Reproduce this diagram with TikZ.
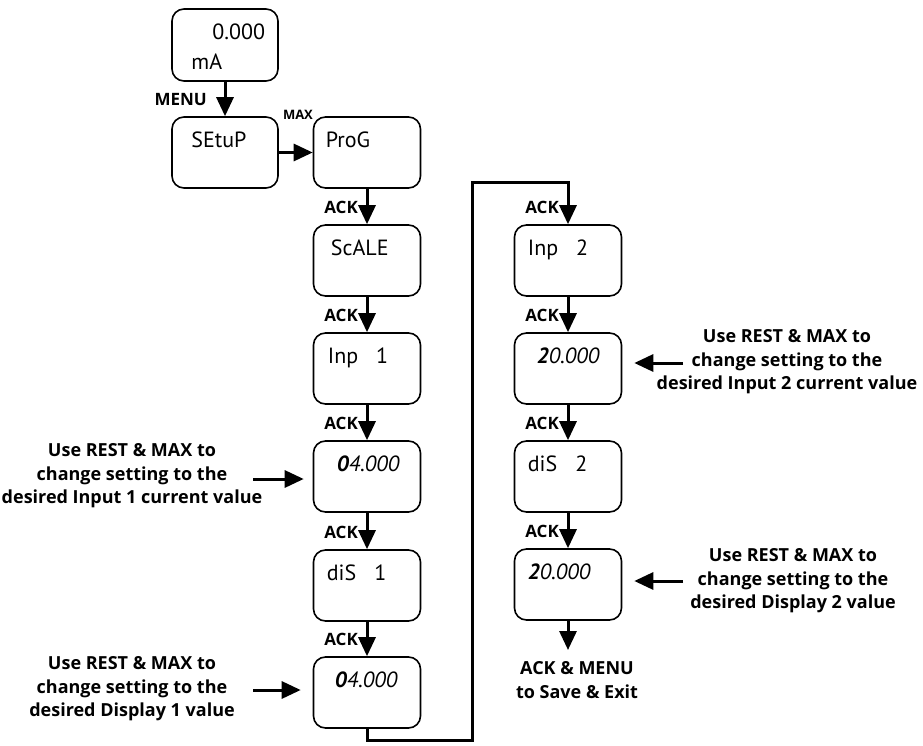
\documentclass[tikz,border=0pt]{standalone}
\usepackage{fontspec}
\setmainfont{PT Sans}
\newfontfamily\labelfont{Open Sans}
\usetikzlibrary{arrows.meta}
\begin{document}
\begin{tikzpicture}[x=1pt,y=-1pt,
  disp/.style={draw, line width=1.6pt, rounded corners=12pt,
    minimum width=107pt, minimum height=71pt, inner sep=0pt},
  dtxt/.style={font=\fontsize{22}{26}\selectfont, anchor=base west, inner sep=0pt},
  arr/.style={line width=3pt, -{Triangle[width=17pt,length=19pt]}},
  key/.style={font=\labelfont\bfseries\fontsize{17}{19}\selectfont, anchor=base east, inner sep=0pt},
  note/.style={font=\labelfont\bfseries\fontsize{18}{23.5}\selectfont, align=center, inner sep=0pt},
]
\useasboundingbox (0,0) rectangle (923,746);

% display boxes
\node[disp, minimum width=106pt, minimum height=72pt] (top) at (225,45) {};
\node[disp, minimum width=106pt] (setup) at (225,152.5) {};
\node[disp] (prog)  at (367,152.5) {};
\node[disp] (scale) at (367,260.5) {};
\node[disp] (inp1)  at (367,368.5) {};
\node[disp] (v1)    at (367,476.5) {};
\node[disp] (dis1)  at (367,585.5) {};
\node[disp] (v2)    at (367,692.5) {};
\node[disp] (inp2)  at (568,260.5) {};
\node[disp] (v3)    at (568,368.5) {};
\node[disp] (dis2)  at (568,476.5) {};
\node[disp] (v4)    at (568,584.5) {};

% display readings
\node[dtxt, anchor=base east] (top-a) at ([shift={(94,31)}]top.north west) {0.000};
\node[dtxt] (top-b) at ([shift={(20,61)}]top.north west) {mA};
\node[dtxt] (setup-t) at ([shift={(20,31)}]setup.north west) {SEtuP};
\node[dtxt] (prog-t)  at ([shift={(13,31)}]prog.north west) {ProG};
\node[dtxt] (scale-t) at ([shift={(18,31)}]scale.north west) {ScALE};
\node[dtxt] (inp1-t)  at ([shift={(15,31)}]inp1.north west) {Inp\hspace{18pt}1};
\node[dtxt] (v1-t)    at ([shift={(24,31)}]v1.north west) {{\bfseries\itshape 0}\itshape 4.000};
\node[dtxt] (dis1-t)  at ([shift={(14,31)}]dis1.north west) {diS\hspace{18pt}1};
\node[dtxt] (v2-t)    at ([shift={(22,31)}]v2.north west) {{\bfseries\itshape 0}\itshape 4.000};
\node[dtxt] (inp2-t)  at ([shift={(14,31)}]inp2.north west) {Inp\hspace{18pt}2};
\node[dtxt] (v3-t)    at ([shift={(23,31)}]v3.north west) {{\bfseries\itshape 2}\itshape 0.000};
\node[dtxt] (dis2-t)  at ([shift={(14,31)}]dis2.north west) {diS\hspace{18pt}2};
\node[dtxt] (v4-t)    at ([shift={(14,31)}]v4.north west) {{\bfseries\itshape 2}\itshape 0.000};

% key presses
\node[key] (k-menu) at ([shift={(-18,24)}]top.south) {MENU};
\node[key, anchor=base west, font=\labelfont\bfseries\fontsize{13}{15}\selectfont] (k-max) at ([shift={(4,3)}]setup.north east) {MAX};
\foreach \b in {scale,inp1,v1,dis1,v2,inp2,v3,dis2,v4}
  \node[key] (k-\b) at ([shift={(-9,-11)}]\b.north) {ACK};

% flow
\draw[arr] (top) -- (setup);
\draw[arr] (setup) -- (prog);
\draw[arr] (prog) -- (scale);
\draw[arr] (scale) -- (inp1);
\draw[arr] (inp1) -- (v1);
\draw[arr] (v1) -- (dis1);
\draw[arr] (dis1) -- (v2);
\coordinate (j1) at (472,740);
\coordinate (j2) at (472,183);
\draw[arr] (v2.south) |- (j1) -- (j2) -| (inp2.north);
\draw[arr] (inp2) -- (v3);
\draw[arr] (v3) -- (dis2);
\draw[arr] (dis2) -- (v4);
\coordinate (e) at (568,650);
\draw[arr] (v4.south) -- (e);

% notes
\node[note] (n1) at (132,476) {Use REST \& MAX to\\change setting to the\\desired Input 1 current value};
\node[note] (n2) at (132,689) {Use REST \& MAX to\\change setting to the\\desired Display 1 value};
\node[note] (n3) at (787,362) {Use REST \& MAX to\\change setting to the\\desired Input 2 current value};
\node[note] (n4) at (793,581) {Use REST \& MAX to\\change setting to the\\desired Display 2 value};
\node[note] (n5) at (577,680) {ACK \& MENU\\to Save \& Exit};

\coordinate (a1) at (253,479);
\coordinate (a2) at (253,690);
\coordinate (a3) at (683,363);
\coordinate (a4) at (683,581);
\draw[arr, shorten >=9pt] (a1) -- (a1 -| v1.west);
\draw[arr, shorten >=12pt] (a2) -- (a2 -| v2.west);
\draw[arr, shorten >=12pt] (a3) -- (a3 -| v3.east);
\draw[arr, shorten >=12pt] (a4) -- (a4 -| v4.east);
\end{tikzpicture}
\end{document}
